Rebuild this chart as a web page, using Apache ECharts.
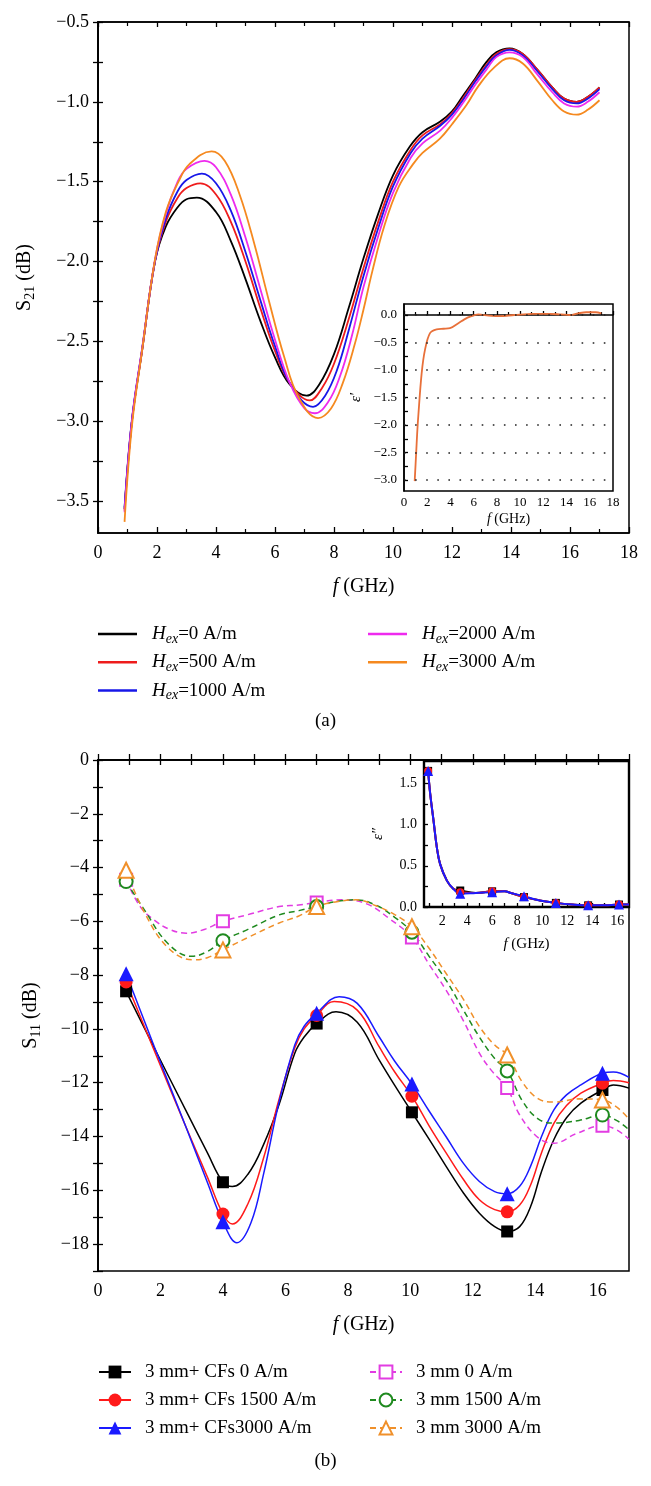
<!DOCTYPE html>
<html><head><meta charset="utf-8">
<script src="https://cdn.jsdelivr.net/npm/echarts@6/dist/echarts.min.js"></script>
<style>html,body{margin:0;padding:0;background:#fff}#c{width:651px;height:1486px}</style>
</head><body><div id="c"></div>
<script>
// ---------- Panel (a): S21 vs f ----------
const fieldLabels = ['0', '500', '1000', '2000', '3000'];
const s21Black = [[0.9,-3.55],[1.15,-3.0],[1.5,-2.55],[1.93,-2.0],[2.3,-1.78],[2.7,-1.66],[3.0,-1.61],[3.35,-1.6],[4.0,-1.69],[4.5,-1.87],[5.0,-2.11],[5.5,-2.37],[6.0,-2.6],[6.5,-2.77],[7.07,-2.84],[7.5,-2.77],[8.0,-2.58],[8.5,-2.29],[9.0,-1.98],[9.5,-1.7],[10.0,-1.46],[10.57,-1.28],[11.0,-1.19],[11.59,-1.125],[12.0,-1.06],[12.38,-0.96],[12.8,-0.85],[13.17,-0.75],[13.5,-0.69],[13.95,-0.665],[14.4,-0.7],[14.9,-0.8],[15.4,-0.91],[15.8,-0.98],[16.23,-1.0],[16.6,-0.97],[17.0,-0.91]];
const s21Red = [[0.9,-3.56],[1.15,-3.0],[1.5,-2.55],[1.93,-2.0],[2.3,-1.75],[2.7,-1.6],[3.0,-1.54],[3.47,-1.51],[4.0,-1.58],[4.5,-1.75],[5.0,-2.0],[5.5,-2.29],[6.0,-2.56],[6.5,-2.76],[7.18,-2.87],[7.6,-2.79],[8.0,-2.64],[8.5,-2.36],[9.0,-2.04],[9.5,-1.75],[10.0,-1.5],[10.6,-1.3],[11.0,-1.21],[11.6,-1.14],[12.0,-1.07],[12.4,-0.97],[12.8,-0.86],[13.2,-0.76],[13.5,-0.7],[13.95,-0.67],[14.4,-0.7],[14.9,-0.8],[15.4,-0.91],[15.8,-0.98],[16.23,-1.0],[16.6,-0.97],[17.0,-0.91]];
const s21Blue = [[0.9,-3.54],[1.15,-2.99],[1.5,-2.54],[1.93,-2.0],[2.3,-1.73],[2.7,-1.56],[3.0,-1.49],[3.52,-1.45],[4.0,-1.51],[4.5,-1.68],[5.0,-1.94],[5.5,-2.24],[6.0,-2.53],[6.5,-2.76],[7.29,-2.91],[7.7,-2.84],[8.1,-2.68],[8.5,-2.43],[9.0,-2.09],[9.5,-1.79],[10.0,-1.53],[10.6,-1.32],[11.0,-1.23],[11.6,-1.15],[12.0,-1.08],[12.4,-0.98],[12.8,-0.87],[13.2,-0.77],[13.5,-0.71],[13.95,-0.675],[14.4,-0.71],[14.9,-0.81],[15.4,-0.92],[15.8,-0.99],[16.23,-1.01],[16.6,-0.98],[17.0,-0.92]];
const s21Magenta = [[0.9,-3.57],[1.15,-3.0],[1.5,-2.54],[1.93,-1.99],[2.3,-1.7],[2.7,-1.5],[3.0,-1.42],[3.61,-1.37],[4.0,-1.41],[4.5,-1.58],[5.0,-1.85],[5.5,-2.17],[6.0,-2.49],[6.5,-2.76],[7.0,-2.92],[7.35,-2.95],[7.8,-2.88],[8.2,-2.72],[8.6,-2.47],[9.0,-2.16],[9.5,-1.84],[10.0,-1.57],[10.6,-1.35],[11.0,-1.26],[11.6,-1.18],[12.0,-1.1],[12.4,-1.0],[12.8,-0.89],[13.2,-0.79],[13.5,-0.72],[13.95,-0.69],[14.4,-0.72],[14.9,-0.83],[15.4,-0.94],[15.8,-1.01],[16.23,-1.03],[16.6,-1.0],[17.0,-0.94]];
const s21Orange = [[0.9,-3.63],[1.15,-3.03],[1.5,-2.55],[1.93,-1.99],[2.3,-1.69],[2.73,-1.5],[3.1,-1.39],[3.85,-1.31],[4.3,-1.37],[4.8,-1.58],[5.3,-1.89],[5.8,-2.25],[6.3,-2.59],[6.8,-2.85],[7.46,-2.98],[7.9,-2.92],[8.3,-2.76],[8.7,-2.52],[9.0,-2.3],[9.3,-2.06],[9.7,-1.78],[10.2,-1.53],[10.68,-1.39],[11.0,-1.32],[11.59,-1.23],[12.0,-1.14],[12.49,-1.02],[12.9,-0.9],[13.4,-0.79],[13.95,-0.727],[14.4,-0.76],[14.9,-0.87],[15.4,-0.99],[15.8,-1.06],[16.23,-1.08],[16.6,-1.05],[17.0,-0.99]];
const s21YTicks = [-3.5, -3.0, -2.5, -2.0, -1.5, -1.0, -0.5];

// inset (a): real permittivity
const epsReal = [[0.92,-3.02],[1.05,-2.5],[1.13,-2.17],[1.23,-1.84],[1.52,-1.06],[1.81,-0.63],[2.24,-0.33],[2.81,-0.26],[3.4,-0.25],[3.96,-0.24],[4.68,-0.15],[5.2,-0.08],[5.69,-0.03],[6.4,0.01],[7.3,-0.01],[8.27,-0.02],[9.5,0.0],[11.14,0.02],[12.57,0.02],[13.5,0.01],[14.3,0.0],[15.0,0.03],[15.7,0.05],[16.5,0.05],[17.0,0.03]];
const epsRealYTicks = [-3.0, -2.5, -2.0, -1.5, -1.0, -0.5, 0.0];

// ---------- Panel (b): S11 vs f ----------
const s11X = [0.9, 4.0, 7.0, 10.05, 13.1, 16.15];
const cf0 = [-8.6, -15.7, -9.8, -13.1, -17.53, -12.27];
const cf1500 = [-8.25, -16.88, -9.5, -12.5, -16.8, -12.02];
const cf3000 = [-7.95, -17.17, -9.42, -12.05, -16.13, -11.65];
const mm0 = [-4.45, -6.0, -5.3, -6.6, -12.2, -13.6];
const mm1500 = [-4.52, -6.72, -5.45, -6.4, -11.56, -13.2];
const mm3000 = [-4.1, -7.06, -5.45, -6.2, -10.97, -12.64];
const cf0Curve = [[1.8,-10.7],[2.8,-13.0],[3.5,-14.6],[4.3,-15.86],[4.8,-15.4],[5.3,-14.3],[5.8,-12.8],[6.3,-10.9],[6.6,-10.3],[7.62,-9.36],[8.3,-9.75],[9.0,-11.15],[9.5,-12.1],[10.6,-14.1],[11.14,-15.1],[11.7,-16.1],[12.21,-16.85],[12.7,-17.35],[13.5,-17.35],[13.85,-16.6],[14.2,-15.3],[14.6,-14.1],[15.0,-13.3],[15.46,-12.76],[16.5,-12.08],[17.0,-12.2]];
const cf1500Curve = [[1.8,-10.8],[2.8,-13.6],[3.5,-15.5],[4.3,-17.25],[4.8,-16.5],[5.3,-14.8],[5.8,-12.6],[6.3,-10.7],[6.6,-10.0],[7.56,-8.98],[8.3,-9.3],[9.0,-10.66],[9.5,-11.6],[10.6,-13.6],[11.14,-14.6],[11.7,-15.6],[12.21,-16.35],[12.7,-16.72],[13.5,-16.55],[13.85,-15.8],[14.2,-14.6],[14.6,-13.5],[15.0,-12.85],[15.46,-12.39],[16.5,-11.92],[17.0,-12.0]];
const cf3000Curve = [[1.8,-10.65],[2.8,-13.6],[3.5,-15.7],[4.45,-17.95],[4.9,-17.2],[5.3,-15.4],[5.8,-12.7],[6.3,-10.6],[6.6,-9.9],[7.72,-8.8],[8.3,-9.05],[9.0,-10.29],[9.5,-11.2],[10.6,-13.05],[11.14,-14.0],[11.7,-15.0],[12.21,-15.67],[12.7,-16.05],[13.5,-15.85],[13.85,-15.1],[14.2,-14.0],[14.6,-13.0],[15.0,-12.45],[15.46,-12.08],[16.5,-11.6],[17.0,-11.8]];
const mm0Curve = [[1.35,-5.45],[1.8,-5.95],[2.3,-6.3],[2.83,-6.44],[3.4,-6.3],[4.8,-5.75],[5.8,-5.45],[6.43,-5.39],[7.8,-5.2],[8.6,-5.35],[9.33,-5.9],[10.6,-7.6],[11.14,-8.55],[11.7,-9.7],[12.21,-10.9],[12.6,-11.55],[13.5,-13.2],[14.1,-14.05],[14.6,-14.25],[15.3,-13.9],[16.6,-13.75],[17.0,-14.1]];
const mm1500Curve = [[1.5,-5.6],[2.26,-6.85],[3.0,-7.3],[3.5,-7.12],[4.8,-6.3],[5.8,-5.76],[6.43,-5.6],[7.6,-5.27],[8.26,-5.2],[8.9,-5.4],[9.5,-5.85],[10.6,-7.3],[11.14,-8.18],[11.7,-9.3],[12.21,-10.3],[12.7,-11.1],[13.6,-12.7],[14.1,-13.35],[14.6,-13.5],[15.4,-13.4],[16.6,-13.4],[17.0,-13.75]];
const mm3000Curve = [[1.5,-5.7],[2.26,-7.0],[3.05,-7.43],[3.5,-7.35],[4.8,-6.6],[5.8,-6.06],[6.43,-5.8],[7.6,-5.28],[8.26,-5.2],[8.9,-5.42],[9.5,-5.75],[10.6,-7.0],[11.14,-7.93],[11.7,-8.9],[12.21,-9.91],[12.7,-10.6],[13.6,-12.0],[14.1,-12.6],[14.6,-12.72],[15.4,-12.6],[16.6,-12.9],[17.0,-13.35]];
const s11XTicks = [0, 2, 4, 6, 8, 10, 12, 14, 16];
const s11YTicks = [-18, -16, -14, -12, -10, -8, -6, -4, -2, 0];

// inset (b): imaginary permittivity
const epsX = [0.88, 3.45, 6.0, 8.55, 11.1, 13.68, 16.15];
const eps0 = [1.65, 0.2, 0.19, 0.12, 0.05, 0.02, 0.03];
const eps1500 = [1.65, 0.18, 0.19, 0.12, 0.05, 0.02, 0.03];
const eps3000 = [1.65, 0.16, 0.18, 0.13, 0.05, 0.02, 0.03];
const epsCurve = [[1.04,1.38],[1.31,1.05],[1.58,0.72],[1.84,0.52],[2.38,0.32],[2.9,0.22],[4.7,0.17],[7.0,0.19],[7.5,0.17],[9.8,0.08],[12.4,0.03],[15.0,0.02],[16.95,0.03]];
const epsImXTicks = [2, 4, 6, 8, 10, 12, 14, 16];
const epsImYTicks = [0.0, 0.5, 1.0, 1.5];

// ---------- build ----------
const FONT = "'Liberation Serif','DejaVu Serif','Times New Roman',serif";
const BLACK = '#000';
const minus = v => (v < 0 ? '\u2212' : '') + Math.abs(v);
const minus1 = v => (v < 0 ? '\u2212' : '') + Math.abs(v).toFixed(1);
function withHalves(ticks, step) {
  const out = [];
  ticks.forEach((t, i) => { out.push(t); if (i < ticks.length - 1) out.push(+(t + step / 2).toFixed(4)); });
  return out;
}
function merged(curve, xs, ys) {
  const pts = curve.map(p => ({ value: p, symbol: 'none' }));
  xs.forEach((x, i) => pts.push({ value: [x, ys[i]] }));
  pts.sort((a, b) => a.value[0] - b.value[0]);
  return pts;
}
const axisLine = { show: true, lineStyle: { color: BLACK, width: 1.5 } };
const tickIn = (len, extra) => Object.assign({ show: true, inside: true, length: len, lineStyle: { color: BLACK, width: 1.3 } }, extra || {});
const lbl = (size, margin, extra) => Object.assign({ fontSize: size, margin: margin, color: BLACK, fontFamily: FONT }, extra || {});
const noSplit = { show: false };

const s21Curves = [s21Black, s21Red, s21Blue, s21Magenta, s21Orange];
const s21Colors = ['#000000', '#ee1c1c', '#1717e8', '#ee2aee', '#f5891f'];
const s21Names = fieldLabels.map(f => 'Hex=' + f + ' A/m');

const series = [];
s21Curves.forEach((c, i) => series.push({
  name: s21Names[i], type: 'line', xAxisIndex: 0, yAxisIndex: 0, data: c,
  showSymbol: false, symbol: 'none', smooth: 0.4,
  lineStyle: { color: s21Colors[i], width: 1.8 }, itemStyle: { color: s21Colors[i] }
}));
series.push({
  name: 'eps-real', type: 'line', xAxisIndex: 2, yAxisIndex: 2, data: epsReal,
  showSymbol: false, symbol: 'none', smooth: 0.35,
  lineStyle: { color: '#e8703a', width: 1.8 }, itemStyle: { color: '#e8703a' },
  markLine: { silent: true, symbol: 'none', label: { show: false },
    lineStyle: { color: '#222', type: [1.6, 9.5], width: 1.6 },
    data: epsRealYTicks.map(v => ({ yAxis: v })) }
});

const s11Names = ['3 mm+ CFs 0 A/m', '3 mm+ CFs 1500 A/m', '3 mm+ CFs3000 A/m', '3 mm 0 A/m', '3 mm 1500 A/m', '3 mm 3000 A/m'];
const s11Markers = [cf0, cf1500, cf3000, mm0, mm1500, mm3000];
const s11Curves = [cf0Curve, cf1500Curve, cf3000Curve, mm0Curve, mm1500Curve, mm3000Curve];
const s11Colors = ['#000000', '#ff1a1a', '#1a1aff', '#e23ce2', '#1f8a1f', '#f0902a'];
const s11Symbols = ['rect', 'circle', 'triangle', 'emptyRect', 'emptyCircle', 'emptyTriangle'];
const s11Sizes = [12, 13, 15, 12, 13, 15];
s11Names.forEach((n, i) => series.push({
  name: n, type: 'line', xAxisIndex: 3, yAxisIndex: 3,
  data: merged(s11Curves[i], s11X, s11Markers[i]),
  symbol: s11Symbols[i], symbolSize: s11Sizes[i], showSymbol: true, smooth: 0.4,
  lineStyle: { color: s11Colors[i], width: 1.5, type: i < 3 ? 'solid' : [6, 4] },
  itemStyle: { color: s11Colors[i], borderWidth: 1.5 }
}));
const epsSets = [eps0, eps1500, eps3000];
['rect', 'circle', 'triangle'].forEach((sym, i) => series.push({
  name: 'eps-im-' + i, type: 'line', xAxisIndex: 5, yAxisIndex: 5,
  data: merged(epsCurve, epsX, epsSets[i]),
  symbol: sym, symbolSize: i === 2 ? 10 : 8, showSymbol: true, smooth: 0.4,
  lineStyle: { color: s11Colors[i], width: 2 }, itemStyle: { color: s11Colors[i] }
}));

const hexRich = {
  i: { fontStyle: 'italic', fontSize: 19, lineHeight: 22, fontFamily: FONT, color: BLACK },
  s: { fontStyle: 'italic', fontSize: 14, lineHeight: 22, padding: [10, 0, 0, 0], fontFamily: FONT, color: BLACK },
  t: { fontSize: 19, lineHeight: 22, fontFamily: FONT, color: BLACK }
};
const hexFormatter = n => '{i|H}{s|ex}{t|' + n.slice(3) + '}';
const legA = (left, names) => ({
  orient: 'vertical', left: left, top: 622, padding: 0, itemGap: 4.3,
  itemWidth: 39, itemHeight: 2.5, icon: 'rect', selectedMode: false,
  data: names, formatter: hexFormatter,
  textStyle: { padding: [0, 0, 0, 10], fontSize: 19, lineHeight: 22, fontFamily: FONT, color: BLACK, rich: hexRich }
});
const legB = (left, names) => ({
  orient: 'vertical', left: left, top: 1361, padding: 0, itemGap: 6,
  itemWidth: 32, itemHeight: 16, selectedMode: false, data: names,
  textStyle: { padding: [0, 0, 0, 9], fontSize: 19, lineHeight: 22, fontFamily: FONT, color: BLACK }
});

const fName = { name: '{i|f} (GHz)', nameLocation: 'middle' };
const fNameStyle = size => ({ fontSize: size, fontFamily: FONT, color: BLACK, rich: { i: { fontStyle: 'italic', fontSize: size, fontFamily: FONT, color: BLACK } } });
const sName = sub => '{n|S}{s|' + sub + '}{n| (dB)}';
const sNameStyle = {
  fontSize: 20, fontFamily: FONT, color: BLACK,
  rich: { n: { fontSize: 20, lineHeight: 24, fontFamily: FONT, color: BLACK },
          s: { fontSize: 14, lineHeight: 24, padding: [10, 0, 0, 0], fontFamily: FONT, color: BLACK } }
};
const minorT = (len) => ({ show: true, splitNumber: 2, length: len, lineStyle: { color: BLACK, width: 1.2 } });

const option = {
  animation: false,
  backgroundColor: '#fff',
  title: [
    { text: '(a)', left: 'center', top: 712, padding: 0, textStyle: { fontSize: 19, fontWeight: 'normal', fontFamily: FONT, color: BLACK } },
    { text: '(b)', left: 'center', top: 1452, padding: 0, textStyle: { fontSize: 19, fontWeight: 'normal', fontFamily: FONT, color: BLACK } }
  ],
  legend: [
    legA(98, s21Names.slice(0, 3)), legA(368, s21Names.slice(3)),
    legB(98, s11Names.slice(0, 3)), legB(369, s11Names.slice(3))
  ],
  grid: [
    { left: 98, top: 22, width: 531, height: 511, show: true, borderColor: BLACK, borderWidth: 1.5 },
    { left: 404, top: 304, width: 209, height: 187, show: true, borderColor: BLACK, borderWidth: 1.5, backgroundColor: '#fff' },
    { left: 98, top: 760, width: 531, height: 511, show: true, borderColor: BLACK, borderWidth: 1.5 },
    { left: 424, top: 761, width: 205, height: 146, show: true, borderColor: BLACK, borderWidth: 2.4, backgroundColor: '#fff' }
  ],
  xAxis: [
    Object.assign({ type: 'value', gridIndex: 0, min: 0, max: 18, interval: 2, axisLine: axisLine,
      axisTick: tickIn(6), minorTick: minorT(4),
      axisLabel: lbl(18, 11), splitLine: noSplit, nameGap: 44, nameTextStyle: fNameStyle(20) }, fName),
    { type: 'value', gridIndex: 0, position: 'top', min: 0, max: 18, interval: 2, axisLine: axisLine,
      axisTick: tickIn(5), minorTick: minorT(4), axisLabel: { show: false }, splitLine: noSplit },
    Object.assign({ type: 'value', gridIndex: 1, min: 0, max: 18, interval: 2, axisLine: axisLine,
      axisTick: tickIn(4), minorTick: minorT(3),
      axisLabel: lbl(13, 5), splitLine: noSplit, nameGap: 21, nameTextStyle: fNameStyle(14) }, fName),
    Object.assign({ type: 'value', gridIndex: 2, min: 0, max: 17, axisLine: axisLine,
      axisTick: tickIn(6, { customValues: withHalves(s11XTicks, 2).concat([17]) }),
      axisLabel: lbl(18, 11, { customValues: s11XTicks }), splitLine: noSplit, nameGap: 44, nameTextStyle: fNameStyle(20) }, fName),
    { type: 'value', gridIndex: 2, position: 'top', min: 0, max: 17, axisLine: axisLine,
      axisTick: tickIn(5, { customValues: withHalves(s11XTicks, 2) }), axisLabel: { show: false }, splitLine: noSplit },
    Object.assign({ type: 'value', gridIndex: 3, min: 0.55, max: 16.95, axisLine: axisLine,
      axisTick: tickIn(4, { customValues: withHalves(epsImXTicks, 2).concat([1]) }),
      axisLabel: lbl(14, 7, { customValues: epsImXTicks }), splitLine: noSplit, nameGap: 30, nameTextStyle: fNameStyle(15) }, fName)
  ],
  yAxis: [
    { type: 'value', gridIndex: 0, min: -3.7, max: -0.5, axisLine: axisLine,
      axisTick: tickIn(5, { customValues: withHalves(s21YTicks, 0.5) }),
      axisLabel: lbl(18, 9, { customValues: s21YTicks, formatter: minus1 }), splitLine: noSplit,
      name: sName('21'), nameLocation: 'middle', nameGap: 61, nameTextStyle: sNameStyle },
    { type: 'value', gridIndex: 0, position: 'right', min: -3.7, max: -0.5, axisLine: axisLine,
      axisTick: tickIn(5, { customValues: withHalves(s21YTicks, 0.5) }), axisLabel: { show: false }, splitLine: noSplit },
    { type: 'value', gridIndex: 1, min: -3.2, max: 0.2, axisLine: axisLine,
      axisTick: tickIn(4, { customValues: withHalves(epsRealYTicks, 0.5) }),
      axisLabel: lbl(13, 7, { customValues: epsRealYTicks, formatter: minus1 }), splitLine: noSplit,
      name: 'ε′', nameLocation: 'middle', nameGap: 40, nameTextStyle: { fontSize: 15, fontStyle: 'italic', fontFamily: FONT, color: BLACK } },
    { type: 'value', gridIndex: 2, min: -19, max: 0, axisLine: axisLine,
      axisTick: tickIn(5, { customValues: withHalves(s11YTicks, 2).concat([-19]) }),
      axisLabel: lbl(18, 9, { customValues: s11YTicks, formatter: minus }), splitLine: noSplit,
      name: sName('11'), nameLocation: 'middle', nameGap: 55, nameTextStyle: sNameStyle },
    { type: 'value', gridIndex: 2, position: 'right', min: -19, max: 0, axisLine: axisLine,
      axisTick: tickIn(5, { customValues: withHalves(s11YTicks, 2).concat([-19]) }), axisLabel: { show: false }, splitLine: noSplit },
    { type: 'value', gridIndex: 3, min: 0, max: 1.77, axisLine: axisLine,
      axisTick: tickIn(4, { customValues: withHalves(epsImYTicks, 0.5) }),
      axisLabel: lbl(14, 7, { customValues: epsImYTicks, formatter: v => v.toFixed(1) }), splitLine: noSplit,
      name: 'ε″', nameLocation: 'middle', nameGap: 38, nameTextStyle: { fontSize: 15, fontStyle: 'italic', fontFamily: FONT, color: BLACK } }
  ],
  series: series
};
const chart = echarts.init(document.getElementById('c'), null, { renderer: 'canvas', width: 651, height: 1486 });
chart.setOption(option);
</script>
</body></html>
